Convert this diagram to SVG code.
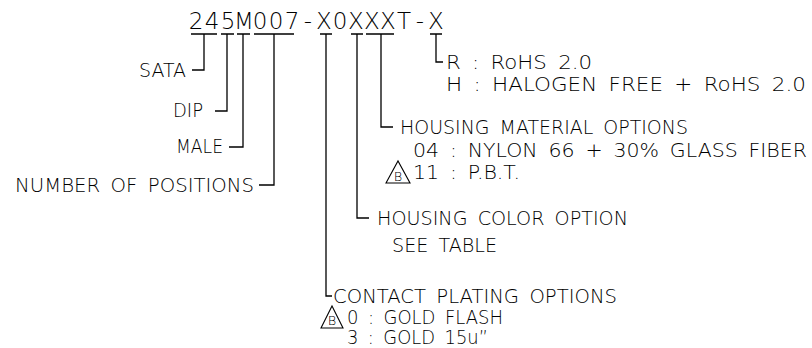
<svg xmlns="http://www.w3.org/2000/svg" width="812" height="348" viewBox="0 0 812 348">
<style>
text{font-family:"DejaVu Sans","Liberation Sans",Arial,sans-serif;font-weight:200;fill:#000;}
.t{font-size:23px;text-anchor:middle;}
.l{font-size:19px;word-spacing:4px;}
.r{text-anchor:end;}
.ln{fill:none;stroke:#000;stroke-width:1.3;}
.tri{fill:none;stroke:#000;stroke-width:1.1;}
.b{font-size:13px;text-anchor:middle;}
</style>
<rect width="812" height="348" fill="#fff"/>
<g id="part-number">
<text class="t" x="196 212 228 244 260 276 292 308 324 340 356 372 388 404 420 436" y="29">245M007-X0XXXT-X</text>
</g>
<g id="connectors" class="ln">
<path d="M191 34H217M221 34H234M237 34H250M254 34H294M320 34H332M351 34H363M366 34H394M430 34H442"/>
<path d="M204 34V70H192"/>
<path d="M227 34V111H215"/>
<path d="M243 34V147H229"/>
<path d="M274 34V185H259"/>
<path d="M326 34V296H332"/>
<path d="M357 34V218H369"/>
<path d="M381 34V127H393"/>
<path d="M436 34V62H443"/>
</g>
<g id="sata"><text class="l r" x="186" y="77" textLength="47" lengthAdjust="spacingAndGlyphs">SATA</text></g>
<g id="dip"><text class="l r" x="203" y="117" textLength="30" lengthAdjust="spacingAndGlyphs">DIP</text></g>
<g id="male"><text class="l r" x="223" y="153" textLength="47" lengthAdjust="spacingAndGlyphs">MALE</text></g>
<g id="positions"><text class="l" x="15" y="192" textLength="239" lengthAdjust="spacingAndGlyphs">NUMBER OF POSITIONS</text></g>
<g id="rohs">
<text class="l" x="446" y="69" textLength="146" lengthAdjust="spacingAndGlyphs">R : RoHS 2.0</text>
<text class="l" x="446" y="91" textLength="360" lengthAdjust="spacingAndGlyphs">H : HALOGEN FREE + RoHS 2.0</text>
</g>
<g id="housing-material">
<text class="l" x="400" y="134" textLength="288" lengthAdjust="spacingAndGlyphs">HOUSING MATERIAL OPTIONS</text>
<text class="l" x="413" y="157" textLength="394" lengthAdjust="spacingAndGlyphs">04 : NYLON 66 + 30% GLASS FIBER</text>
<polygon class="tri" points="386,183 398,161 410,183"/>
<text class="b" x="398" y="181">B</text>
<text class="l" x="413" y="179" textLength="107" lengthAdjust="spacingAndGlyphs">11 : P.B.T.</text>
</g>
<g id="housing-color">
<text class="l" x="377" y="225" textLength="251" lengthAdjust="spacingAndGlyphs">HOUSING COLOR OPTION</text>
<text class="l" x="392" y="252" textLength="105" lengthAdjust="spacingAndGlyphs">SEE TABLE</text>
</g>
<g id="contact-plating">
<text class="l" x="333" y="303" textLength="284" lengthAdjust="spacingAndGlyphs">CONTACT PLATING OPTIONS</text>
<polygon class="tri" points="321,328 332,306 343,328"/>
<text class="b" x="332" y="325">B</text>
<text class="l" x="347" y="324" textLength="156" lengthAdjust="spacingAndGlyphs">0 : GOLD FLASH</text>
<text class="l" x="347" y="344" textLength="141" lengthAdjust="spacingAndGlyphs">3 : GOLD 15u”</text>
</g>
</svg>
